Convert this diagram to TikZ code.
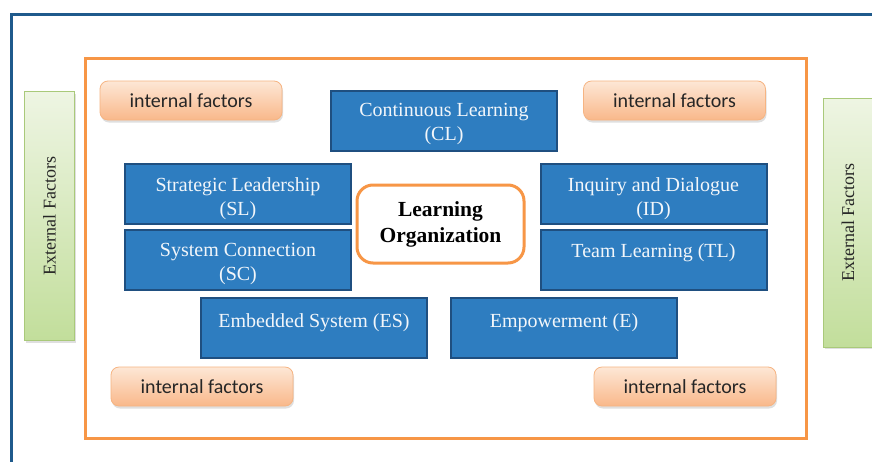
\documentclass[tikz,border=0pt]{standalone}
\usepackage{fontspec}
\setmainfont{Liberation Serif}
\newfontfamily\calib{Carlito}
\usetikzlibrary{shadows,calc}

\definecolor{frameblue}{HTML}{1F5A8C}
\definecolor{frameorange}{HTML}{F79646}
\definecolor{boxblue}{HTML}{2E7DC0}
\definecolor{boxedge}{HTML}{1F4F80}
\definecolor{boxtext}{HTML}{F2F6FA}
\definecolor{peachtop}{HTML}{FDE7D6}
\definecolor{peachbot}{HTML}{F9B88A}
\definecolor{peachedge}{HTML}{F6B482}
\definecolor{greentop}{HTML}{EEF5E3}
\definecolor{greenbot}{HTML}{C2DE9B}
\definecolor{greenedge}{HTML}{A9C97A}

\tikzset{
  factor/.style={draw=boxedge, line width=2pt, fill=boxblue,
    minimum width=226pt, minimum height=60pt, inner sep=0pt},
  factortext/.style={text=boxtext, align=center, inner sep=0pt,
    font=\fontsize{20}{24}\selectfont},
  internal/.style={draw=peachedge, line width=0.8pt, rounded corners=8pt,
    top color=peachtop, bottom color=peachbot, text=black!85,
    minimum width=182pt, minimum height=39pt, inner sep=0pt,
    font=\calib\fontsize{20}{22}\selectfont,
    drop shadow={shadow xshift=1pt, shadow yshift=-2.5pt, opacity=0.25}},
  external/.style={draw=greenedge, line width=0.8pt,
    top color=greentop, bottom color=greenbot,
    minimum width=50pt, minimum height=249pt, inner sep=0pt,
    drop shadow={shadow xshift=1.5pt, shadow yshift=-2pt, opacity=0.25}},
  extlabel/.style={rotate=90, font=\fontsize{18}{20}\selectfont, text=black!85},
  core/.style={draw=frameorange, line width=3pt, fill=white, rounded corners=16pt,
    minimum width=167pt, minimum height=78pt, align=center, inner sep=0pt,
    font=\bfseries\fontsize{21.5}{26}\selectfont},
}

\begin{document}
\begin{tikzpicture}[x=1pt, y=-1pt]
  \useasboundingbox (0,0) rectangle (872,461);
  \fill[white] (0,0) rectangle (872,461);

  % outer frame (runs off the right and bottom edges)
  \draw[frameblue, line width=3pt] (11,470) -- (11,14) -- (880,14);

  % inner frame
  \draw[frameorange, line width=3pt] (85,58) rectangle (806,438);

  % external factors on both sides
  \node[external] (extL) at (49.5,216) {};
  \node[extlabel] (extLt) at (extL.center) {External Factors};
  \node[external] (extR) at (848,222.5) {};
  \node[extlabel] (extRt) at (extR.center) {External Factors};

  % internal factors in the corners
  \node[internal] (inTL) at (191,100.5) {internal factors};
  \node[internal] (inTR) at (674.5,100.5) {internal factors};
  \node[internal] (inBL) at (202,386.5) {internal factors};
  \node[internal] (inBR) at (685,386.5) {internal factors};

  % the seven disciplines
  \node[factor] (CL) at (444,120.5) {};
  \node[factor] (SL) at (238,193.5) {};
  \node[factor] (SC) at (238,259.5) {};
  \node[factor] (ID) at (653.5,193.5) {};
  \node[factor] (TL) at (653.5,259.5) {};
  \node[factor] (ES) at (314,328) {};
  \node[factor] (E)  at (564,328) {};

  \node[factortext] (CLt) at ($(CL.center)+(0,3.5)$) {Continuous Learning\\(CL)};
  \node[factortext] (SLt) at ($(SL.center)+(0,5)$) {Strategic Leadership\\(SL)};
  \node[factortext] (SCt) at ($(SC.center)+(0,5)$) {System Connection\\(SC)};
  \node[factortext] (IDt) at ($(ID.center)+(0,5)$) {Inquiry and Dialogue\\(ID)};
  \node[factortext] (TLt) at ($(TL.center)+(0,-6.5)$) {Team Learning (TL)};
  \node[factortext] (ESt) at ($(ES.center)+(0,-5)$) {Embedded System (ES)};
  \node[factortext] (Et)  at ($(E.center)+(0,-5)$) {Empowerment (E)};

  % centre
  \node[core] (LO) at (440.5,224) {Learning\\Organization};
\end{tikzpicture}
\end{document}
